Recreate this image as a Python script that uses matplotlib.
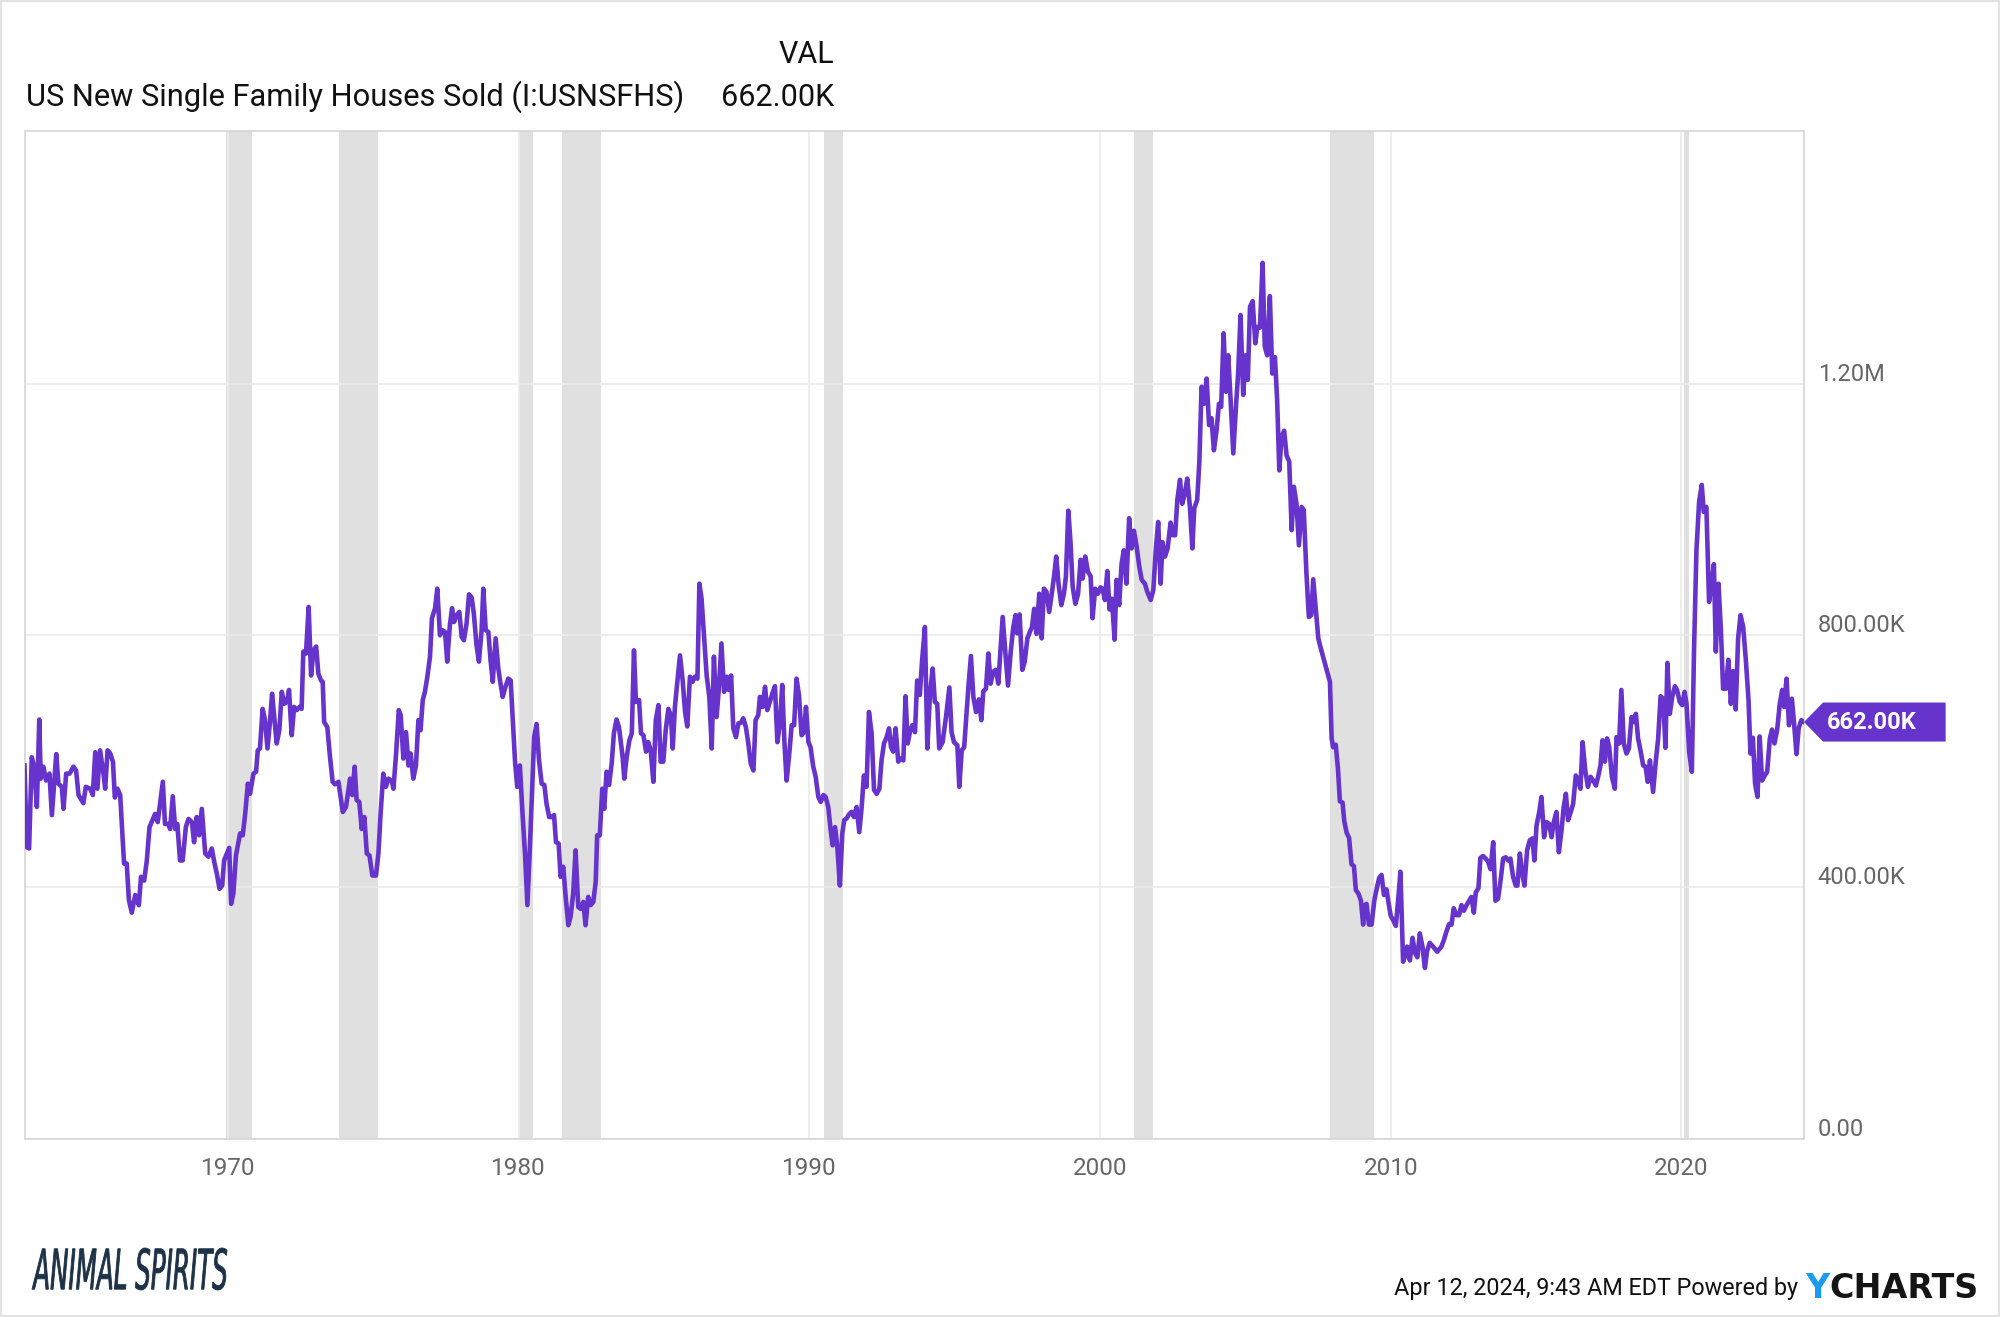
import matplotlib
matplotlib.use("Agg")
import matplotlib.pyplot as plt
from matplotlib.patches import Polygon, Rectangle, PathPatch
from matplotlib.textpath import TextPath
from matplotlib.font_manager import FontProperties
from matplotlib.transforms import Affine2D, ScaledTranslation

plt.rcParams['font.family'] = ['Roboto', 'DejaVu Sans']

# months since Jan 1963 and sales in thousands
months = [
    0.0, 1.0, 1.9, 3.0, 4.0, 5.1, 6.1, 6.7, 7.8, 8.9,
    10.3, 11.3, 13.1, 14.0, 15.4, 16.1, 17.2, 18.6, 20.2, 21.3,
    22.3, 24.3, 25.3, 27.1, 28.2, 29.2, 30.1, 31.2, 32.6, 33.3,
    34.3, 35.4, 36.5, 37.3, 38.4, 39.5, 41.1, 42.2, 43.1, 44.3,
    45.7, 47.2, 48.1, 49.4, 50.5, 51.6, 52.5, 53.9, 55.0, 57.1,
    58.0, 59.4, 60.1, 61.2, 62.2, 63.1, 64.2, 65.3, 66.6, 67.7,
    69.1, 70.0, 71.1, 72.1, 73.2, 74.6, 75.9, 77.3, 78.3, 79.4,
    80.5, 81.6, 82.4, 84.5, 85.3, 86.2, 87.3, 89.0, 90.1, 91.1,
    92.2, 93.1, 94.5, 95.6, 96.3, 97.2, 98.3, 99.3, 100.3, 101.4,
    102.2, 103.2, 104.1, 105.2, 106.2, 107.2, 108.3, 109.2, 110.3, 111.3,
    112.4, 113.5, 114.4, 115.1, 116.2, 117.3, 118.3, 119.3, 120.4, 121.3,
    122.4,
    123.1, 123.7, 125.0, 126.1, 127.2, 128.2, 129.6, 130.5, 131.4, 132.7,
    134.4, 135.3, 136.3, 137.1, 138.2, 139.2, 140.3, 141.3, 142.4, 143.6,
    145.1, 146.1, 147.0, 148.1, 149.2, 150.2, 151.6, 152.3, 153.4, 154.5,
    155.3, 156.4, 157.5, 158.5, 159.4, 160.5, 161.6, 162.6, 163.5, 164.4,
    165.3, 166.3, 167.4, 168.2, 169.5, 170.4, 171.5, 172.6, 173.6, 174.5,
    175.6, 176.5, 177.3, 178.4, 179.5, 180.5, 181.4, 182.5, 183.5, 184.6,
    185.5, 186.6, 187.6, 188.7, 189.4, 190.4, 191.5, 192.4, 193.3, 194.5,
    195.6, 196.3, 197.4, 198.3, 199.7, 200.7, 201.5, 202.5, 203.4, 204.5,
    205.6, 206.6, 207.6, 208.7, 209.6, 210.4, 211.4, 212.4, 213.5, 214.6,
    215.5, 216.6, 217.6, 218.6, 219.4, 220.5, 221.3, 222.4, 223.4, 224.5,
    225.4, 226.5, 227.5, 228.6, 229.6, 230.7, 231.6, 232.7, 233.7, 234.8,
    235.8, 236.4, 237.5, 238.5, 239.3, 240.3, 241.3, 242.4, 243.3, 244.4,
    245.4,
    246.9, 247.6, 248.6, 249.7, 250.7, 251.6, 252.4, 253.7, 254.5, 255.5,
    256.6, 257.5, 258.5, 259.6, 260.6, 261.7, 262.6, 263.7, 264.7, 265.8,
    266.8, 267.6, 268.5, 269.5, 270.6, 271.7, 272.7, 273.6, 274.7, 275.8,
    276.7, 277.8, 278.6, 279.5, 280.5, 281.6, 282.7, 283.7, 284.6, 285.7,
    286.7, 287.7, 288.8, 289.9, 290.7, 291.7, 292.6, 293.7, 294.7, 295.8,
    296.7, 297.8, 298.8, 299.8, 300.9, 301.8, 302.9, 303.6, 304.7, 305.7,
    306.6, 307.7, 308.7, 309.8, 310.8, 311.9, 312.8, 313.7, 314.6, 315.6,
    316.7, 317.7, 318.7, 319.7, 320.8, 321.8, 322.6, 323.6, 324.5, 325.6,
    326.6, 327.7, 328.7, 329.8, 330.7, 331.8, 332.8, 333.6, 334.6, 335.5,
    336.6, 337.6, 338.4, 339.4, 340.5, 341.4, 342.4, 343.5, 344.6, 345.6,
    346.5, 347.6, 348.6, 349.7, 350.7, 351.8, 352.9, 353.8, 354.8, 355.9,
    356.9, 357.7, 358.6, 359.6, 360.7, 361.7, 362.8, 363.7, 364.6, 365.5,
    366.5, 367.6, 368.5, 369.6, 370.6, 371.7, 372.7, 373.8, 374.9, 375.8,
    376.8, 377.6,
    379.0, 380.4, 381.8, 382.7, 383.7, 385.1, 385.9, 386.9, 387.9, 389.6,
    390.7, 391.7, 392.8, 394.0, 395.0, 395.8, 396.9, 397.9, 398.8, 399.9,
    401.0, 402.0, 403.8, 404.9, 406.0, 407.1, 408.2, 409.1, 409.8, 410.8,
    411.9, 412.9, 414.0, 415.0, 415.9, 416.8, 417.8, 418.9, 419.9, 420.8,
    421.9, 423.0, 424.0, 425.0, 425.9, 426.9, 428.0, 429.1, 429.9, 430.9,
    431.8, 432.7, 433.8, 434.9, 436.0, 436.8, 437.9, 439.0, 440.1, 440.9,
    442.0, 443.1, 444.2, 445.0, 446.0, 447.0, 447.9, 448.9, 450.0, 450.8,
    451.9, 452.9, 453.8, 454.9, 456.0, 457.0, 458.0, 459.1, 460.2,
    461.2, 462.5, 463.5, 464.9, 466.0, 467.0, 468.0, 469.0, 469.8, 470.8,
    471.9, 473.1, 474.0, 475.0, 475.9, 477.0, 477.9, 479.0, 480.0, 481.1,
    482.1, 482.9, 484.1, 485.0, 485.9, 486.9, 488.0, 489.0, 490.0, 491.0,
    492.1, 493.1, 494.0, 495.0, 496.0, 496.9, 497.9, 499.0, 500.1, 501.0,
    502.0, 503.1, 504.1, 505.0, 505.9, 507.0, 508.1, 508.9, 510.0, 511.1,
    512.0, 513.0, 514.1, 515.1, 516.2, 517.1, 518.0, 518.9, 520.0, 521.0,
    522.1, 523.1, 524.0, 525.1, 526.1, 527.2, 528.1, 529.2, 530.2, 531.2,
    532.0, 533.0, 534.1, 535.0,
    538.9, 539.6, 540.2, 541.3, 542.2, 543.0, 544.1, 544.8, 545.8, 546.8,
    547.8, 548.8, 549.6, 550.7, 551.7, 552.6, 553.3, 554.0, 555.0, 556.1,
    557.2, 558.1, 559.2, 560.2, 561.2, 562.3, 563.1, 564.0, 565.0, 566.1,
    567.1, 568.0, 569.1, 570.0, 570.8, 571.9, 573.0, 574.0, 575.0, 576.0,
    577.1, 578.1, 579.0, 580.1, 581.5, 583.2, 584.9, 585.9, 587.0, 588.1,
    589.1, 590.0, 591.1, 592.2, 593.2, 594.2, 595.3, 596.4, 597.3, 598.3,
    599.1, 600.2, 601.0, 602.1, 603.2, 604.2, 605.2, 606.3, 607.2, 608.3,
    609.3,
    610.4, 611.5, 612.5, 613.4, 614.5, 615.6, 616.3, 617.3, 618.3, 619.2,
    620.3, 621.4, 622.5, 623.3, 624.2, 625.3, 626.2, 627.3, 628.3, 629.4,
    630.4, 631.3, 632.4, 633.4, 634.5, 635.4, 636.3, 637.2, 638.3, 639.3,
    640.4, 641.4, 642.3, 643.2, 644.3, 645.4, 646.5, 647.6, 648.7, 649.6,
    650.6, 651.4, 652.4, 653.3, 654.2, 655.3, 656.5, 657.2, 658.3, 659.2,
    660.2, 661.3, 662.3, 663.4, 664.3, 665.2, 666.1, 667.1, 668.2, 669.2,
    670.1,
    671.0, 672.3, 673.4, 674.4, 675.4, 676.5, 677.4, 678.2, 679.2, 680.2,
    681.3, 682.2, 683.3, 684.3, 685.3, 686.1, 687.2, 688.3, 689.2, 690.2,
    691.3, 692.4, 693.2, 694.3, 695.4, 696.4, 697.4, 698.2, 699.3, 700.3,
    701.2, 702.3, 703.4, 704.4, 705.3, 706.4, 707.4, 708.4, 709.5, 710.6,
    711.7, 712.5, 713.5, 714.4, 715.4, 716.3, 717.3, 718.4, 719.4, 720.5,
    721.4, 722.4, 723.5, 724.6, 725.6, 726.4, 727.4, 728.4, 729.6, 730.5,
    731.5, 732.4, 733.5, 734.6,
]

sold_k = [
    593, 463, 461, 606, 591, 527, 666, 572, 591, 569,
    580, 514, 611, 564, 559, 524, 580, 580, 591, 585,
    546, 533, 559, 556, 546, 614, 556, 617, 580, 556,
    617, 612, 599, 542, 556, 546, 437, 437, 379, 359,
    387, 371, 416, 410, 442, 495, 503, 516, 503, 567,
    500, 500, 492, 544, 492, 500, 442, 442, 495, 508,
    503, 471, 511, 482, 524, 453, 448, 461, 440, 421,
    397, 402, 442, 462, 373, 389, 450, 485, 482, 516,
    564, 548, 580, 583, 617, 620, 683, 665, 620, 665,
    707, 665, 628, 649, 710, 691, 694, 713, 641, 686,
    681, 686, 683, 774, 771, 845, 736, 776, 782, 739,
    728,
    726, 662, 654, 607, 567, 563, 567, 543, 519, 527,
    572, 546, 591, 538, 535, 492, 511, 453, 450, 418,
    418, 453, 516, 580, 559, 572, 569, 556, 612, 681,
    673, 604, 646, 593, 612, 572, 593, 665, 649, 697,
    710, 734, 766, 827, 843, 874, 800, 808, 805, 758,
    816, 843, 821, 832, 837, 797, 792, 819, 865, 860,
    834, 784, 758, 808, 874, 808, 805, 760, 726, 795,
    747, 728, 702, 715, 731, 728, 670, 599, 559, 593,
    516, 453, 371, 469, 559, 638, 659, 601, 564, 562,
    532, 511, 511, 514, 471, 469, 416, 432, 384, 339,
    352, 389, 458, 368, 365, 376, 339, 384, 371, 376,
    408, 482, 482, 556, 524, 583, 562, 596, 644, 666,
    654,
    607, 572, 607, 633, 644, 776, 694, 697, 644, 641,
    615, 630, 617, 567, 665, 689, 599, 599, 649, 683,
    673, 620, 686, 726, 768, 728, 678, 655, 734, 726,
    734, 731, 882, 858, 800, 736, 702, 620, 766, 670,
    718, 787, 710, 734, 713, 736, 652, 638, 660, 661,
    668, 654, 628, 596, 585, 665, 673, 702, 686, 718,
    681, 694, 707, 719, 630, 662, 721, 630, 569, 607,
    657, 657, 731, 705, 641, 646, 686, 630, 622, 591,
    575, 543, 535, 546, 543, 527, 490, 466, 495, 466,
    402, 485, 506, 509, 516, 519, 511, 527, 487, 527,
    577, 559, 678, 644, 554, 548, 556, 601, 628, 638,
    652, 622, 615, 652, 599, 604, 601, 703, 628, 646,
    657, 646, 728, 705, 763, 813, 620, 707, 747, 694,
    691, 620,
    630, 670, 717, 646, 630, 625, 559, 617, 622, 715,
    767, 702, 678, 698, 665, 711, 715, 771, 723, 742,
    745, 723, 829, 773, 720, 773, 813, 832, 803, 833,
    745, 758, 795, 805, 813, 842, 802, 866, 795, 874,
    869, 837, 864, 893, 925, 880, 848, 866, 893, 998,
    948, 877, 850, 865, 920, 890, 925, 901, 894, 827,
    874, 866, 876, 874, 856, 902, 841, 858, 793, 888,
    848, 914, 935, 882, 986, 938, 966, 941, 909,
    888, 882, 869, 856, 872, 935, 980, 882, 948, 925,
    938, 979, 959, 959, 1015, 1047, 1009, 1025, 1049, 1004,
    938, 1002, 1015, 1076, 1195, 1168, 1208, 1134, 1145, 1094,
    1126, 1168, 1163, 1280, 1187, 1245, 1174, 1089, 1163, 1216,
    1309, 1182, 1245, 1206, 1322, 1331, 1264, 1290, 1289, 1392,
    1259, 1245, 1339, 1216, 1242, 1174, 1062, 1115, 1125, 1086,
    1076, 967, 1036, 1009, 943, 1004, 999, 898, 829, 832,
    889, 845, 795, 781,
    726, 636, 622, 626, 588, 536, 534, 505, 486, 478,
    436, 433, 395, 389, 378, 340, 371, 373, 340, 340,
    378, 395, 414, 419, 387, 396, 374, 354, 347, 338,
    381, 424, 281, 291, 305, 283, 319, 295, 288, 326,
    305, 271, 298, 311, 305, 297, 305, 315, 329, 341,
    340, 366, 355, 355, 371, 362, 371, 378, 384, 359,
    391, 398, 446, 449, 445, 440, 428, 471, 378, 381,
    409,
    445, 447, 442, 445, 416, 402, 402, 453, 421, 402,
    458, 474, 477, 442, 498, 519, 543, 479, 503, 500,
    479, 503, 519, 455, 490, 527, 548, 506, 519, 532,
    577, 569, 556, 630, 585, 559, 575, 569, 561, 575,
    593, 633, 599, 636, 622, 575, 556, 638, 628, 713,
    628, 612, 620, 670, 662, 675, 636, 617, 593, 591,
    567,
    601, 551, 599, 636, 703, 699, 621, 756, 675, 702,
    719, 713, 694, 689, 710, 691, 614, 583, 776, 935,
    1012, 1039, 996, 1004, 853, 880, 913, 774, 882, 808,
    715, 715, 761, 691, 743, 682, 795, 832, 813, 760,
    697, 612, 637, 564, 543, 639, 569, 577, 583, 636,
    650, 628, 649, 691, 713, 686, 731, 657, 699, 660,
    611, 652, 665, 662,
]

recession_start = ["1969-12", "1973-11", "1980-01", "1981-07",
                   "1990-07", "2001-03", "2007-12", "2020-02"]
recession_end = ["1970-11", "1975-03", "1980-07", "1982-11",
                 "1991-03", "2001-11", "2009-06", "2020-04"]

decade_ticks = [1970, 1980, 1990, 2000, 2010, 2020]
y_ticks = [0, 400, 800, 1200]
y_labels = ["0.00", "400.00K", "800.00K", "1.20M"]

series_name = "US New Single Family Houses Sold (I:USNSFHS)"
last_label = "662.00K"
stamp = "Apr 12, 2024, 9:43 AM EDT Powered by"

assert len(months) == len(sold_k)

purple = "#6633cc"
grey_txt = "#666666"


def to_year(s):
    y, m = s.split("-")
    return int(y) + (int(m) - 1) / 12


years = [1963 + m / 12 for m in months]

W, H = 2000, 1317
fig = plt.figure(figsize=(W / 100, H / 100), dpi=100)
ax = fig.add_axes([24.5 / W, 1 - 1138.5 / H, (1804 - 24.5) / W, (1138.5 - 130.7) / H])

for s, e in zip(recession_start, recession_end):
    ax.axvspan(to_year(s), to_year(e), color="#e0e0e0", lw=0, zorder=0.4)

ax.plot(years, sold_k, color=purple, lw=3.3, solid_joinstyle="round", zorder=3)

ax.set_xlim(years[0], years[-1])
ax.set_ylim(0, 1602)
for sp in ax.spines.values():
    sp.set_color("#d5d5d5")
    sp.set_linewidth(1.2)

ax.set_xticks(decade_ticks)
ax.set_xticklabels([str(d) for d in decade_ticks])
ax.tick_params(axis="x", length=0, pad=13, labelsize=17.5, labelcolor=grey_txt)

ax.yaxis.tick_right()
ax.set_yticks(y_ticks)
ax.set_yticklabels(y_labels)
ax.tick_params(axis="y", length=0, pad=10, labelsize=17, labelcolor=grey_txt)
lift = ScaledTranslation(0, 3 / 100, fig.dpi_scale_trans)
for lab in ax.get_yticklabels():
    lab.set_va("baseline")
    lab.set_transform(lab.get_transform() + lift)

ax.grid(True, color="#ebebeb", linewidth=1.2)
ax.set_axisbelow(True)

# value tag on the right axis
last = sold_k[-1]
half = 31
tag = Polygon([(1.0, last), (1.0107, last + half), (1.0796, last + half),
               (1.0796, last - half), (1.0107, last - half)],
              closed=True, transform=ax.get_yaxis_transform(),
              facecolor=purple, edgecolor="none", clip_on=False, zorder=5)
ax.add_patch(tag)
ax.text(1.0128, last, last_label, transform=ax.get_yaxis_transform(),
        color="white", fontsize=17, fontweight="bold", va="center", ha="left",
        clip_on=False, zorder=6)

# header
fig.text(834 / W, 1 - 63 / H, "VAL", ha="right", va="baseline", fontsize=22, color="#111111")
fig.text(25.5 / W, 1 - 106 / H, series_name, ha="left", va="baseline", fontsize=22.2, color="#111111")
fig.text(834 / W, 1 - 106 / H, last_label, ha="right", va="baseline", fontsize=22, color="#111111")

# footer
fig.text(1798 / W, 1 - 1288 / H, stamp, ha="right", va="center", fontsize=16.8, color="#111111")
fig.text(1805 / W, 1 - 1288 / H, "Y", ha="left", va="center", fontsize=24,
         fontweight="bold", family="DejaVu Sans", color="#1a9af0")
fig.text(1829 / W, 1 - 1288 / H, "CHARTS", ha="left", va="center", fontsize=24,
         fontweight="bold", family="DejaVu Sans", color="#151515")

logo_prop = FontProperties(family="DejaVu Sans", style="italic")
tp = TextPath((0, 0), "ANIMAL SPIRITS", size=1, prop=logo_prop)
ext = tp.get_extents()
x0, ytop, x1, ybot = 32, 1248, 227, 1290
sx = (x1 - x0) / W / ext.width
sy = (ybot - ytop) / H / ext.height
tr = Affine2D().translate(-ext.x0, -ext.y0).scale(sx, sy).translate(x0 / W, 1 - ybot / H) + fig.transFigure
fig.add_artist(PathPatch(tp, transform=tr, facecolor="#1d3246", edgecolor="#1d3246", linewidth=0.6))

fig.add_artist(Rectangle((0, 0), 1, 1, transform=fig.transFigure, fill=False,
                         edgecolor="#e3e3e3", linewidth=3))

fig.savefig("out.png", dpi=100)
